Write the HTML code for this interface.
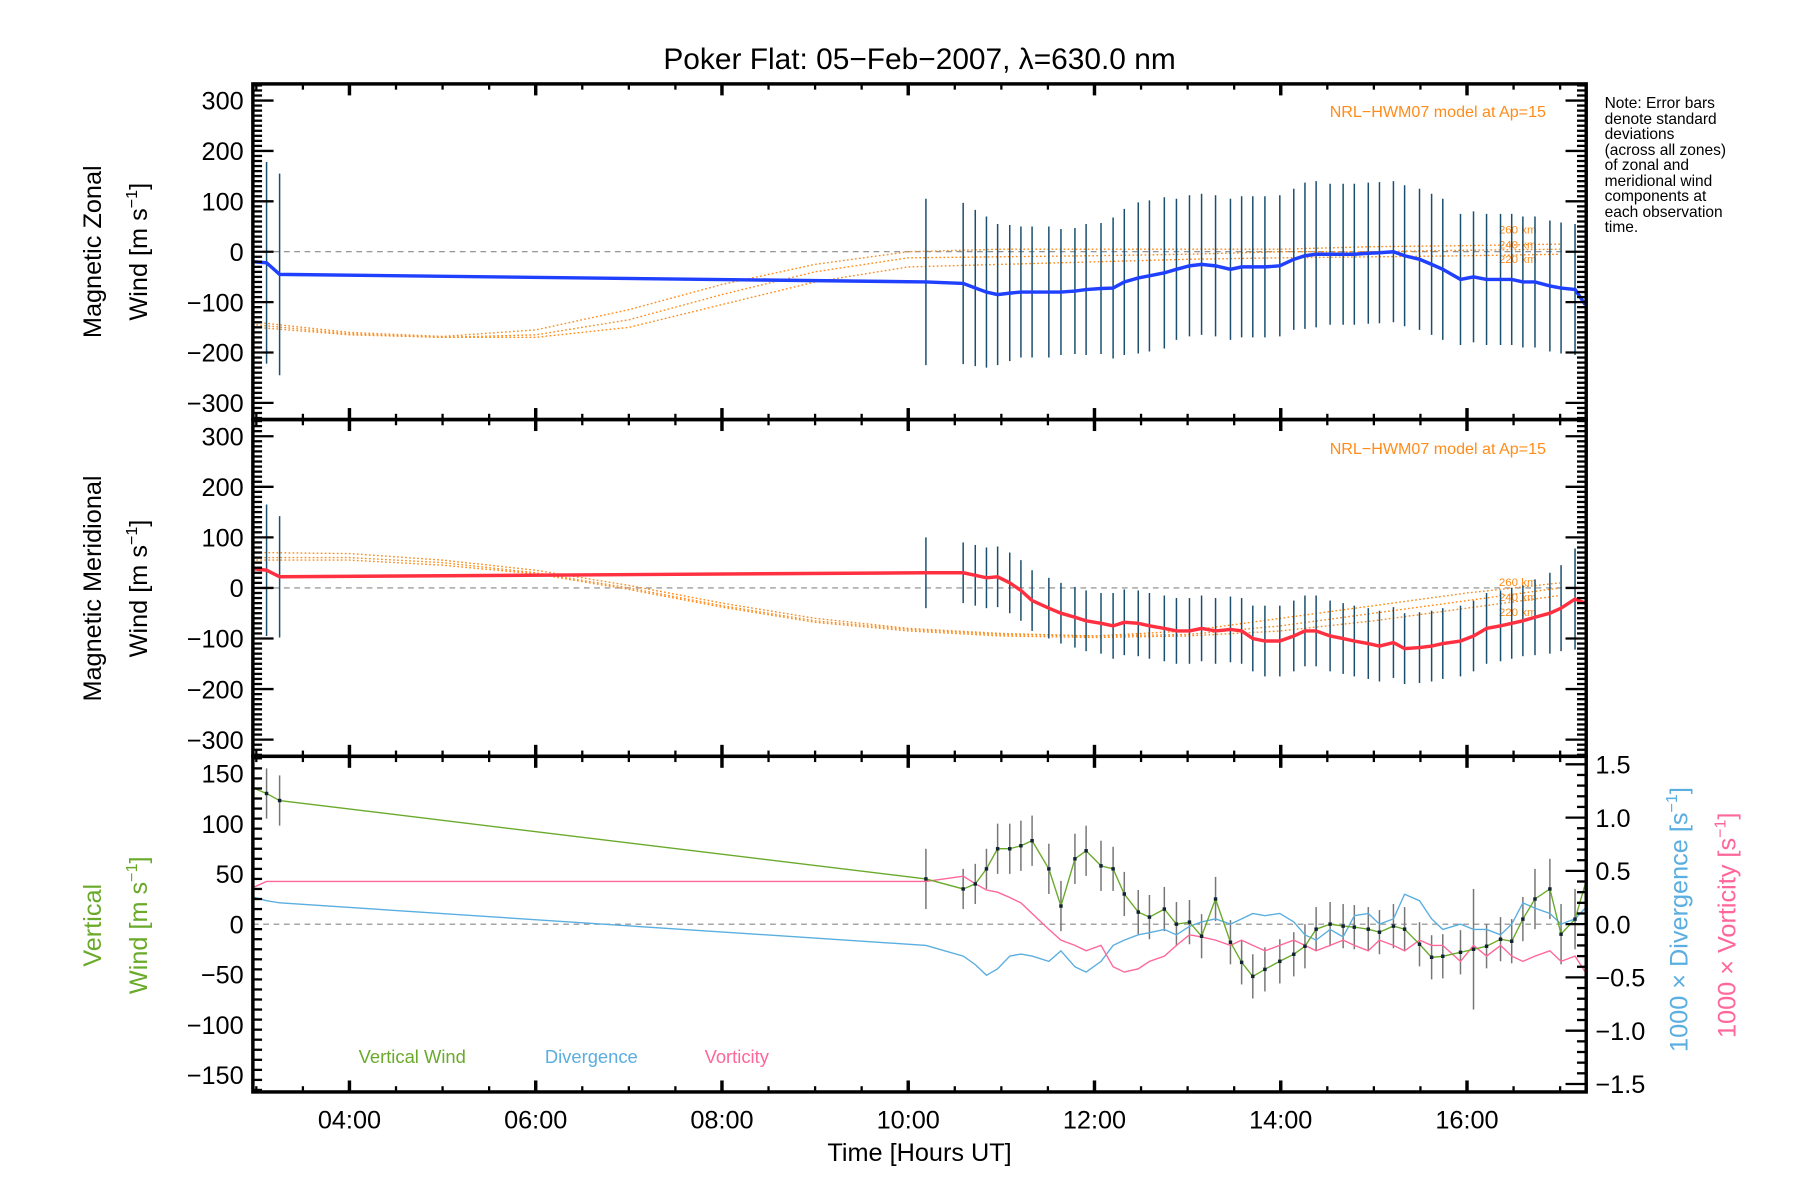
<!DOCTYPE html>
<html><head><meta charset="utf-8"><title>Poker Flat winds</title>
<style>html,body{margin:0;padding:0;background:#fff;}svg{display:block;font-family:"Liberation Sans",sans-serif;}</style>
</head><body>
<svg id="chart" width="1800" height="1200" viewBox="0 0 1566 1044" xmlns="http://www.w3.org/2000/svg">
<rect x="0" y="0" width="1566" height="1044" fill="#fff"/>
<text x="800" y="60" font-size="26" text-anchor="middle">Poker Flat: 05−Feb−2007, λ=630.0 nm</text>
<g font-size="13.5" fill="#000">
<text x="1396" y="94">Note: Error bars</text><text x="1396" y="108">denote standard</text><text x="1396" y="121">deviations</text><text x="1396" y="135">(across all zones)</text><text x="1396" y="148">of zonal and</text><text x="1396" y="162">meridional wind</text><text x="1396" y="175">components at</text><text x="1396" y="189">each observation</text><text x="1396" y="202">time.</text>
</g>
<text x="1345" y="102" font-size="14" fill="#ff8c1a" text-anchor="end">NRL−HWM07 model at Ap=15</text>
<text x="1345" y="395" font-size="14" fill="#ff8c1a" text-anchor="end">NRL−HWM07 model at Ap=15</text>
<g font-size="10" fill="#ff8c1a">
<text x="1304" y="203">260 km</text><text x="1304" y="216">240 km</text><text x="1304" y="229">220 km</text>
<text x="1304" y="510">260 km</text><text x="1304" y="523">240 km</text><text x="1304" y="536">220 km</text>
</g>
<g font-size="22" text-anchor="middle">
<text transform="translate(88,219) rotate(-90)">Magnetic  Zonal</text>
<text transform="translate(128,219) rotate(-90)">Wind [m s<tspan font-size="14" dy="-9">−1</tspan><tspan dy="9">]</tspan></text>
<text transform="translate(88,512) rotate(-90)">Magnetic  Meridional</text>
<text transform="translate(128,512) rotate(-90)">Wind [m s<tspan font-size="14" dy="-9">−1</tspan><tspan dy="9">]</tspan></text>
<text fill="#6aaa2a" transform="translate(88,805) rotate(-90)">Vertical</text>
<text fill="#6aaa2a" transform="translate(128,805) rotate(-90)">Wind [m s<tspan font-size="14" dy="-9">−1</tspan><tspan dy="9">]</tspan></text>
<text fill="#5aaee0" transform="translate(1468,800) rotate(-90)">1000 × Divergence [s<tspan font-size="14" dy="-9">−1</tspan><tspan dy="9">]</tspan></text>
<text fill="#ff6699" transform="translate(1510,805) rotate(-90)">1000 × Vorticity [s<tspan font-size="14" dy="-9">−1</tspan><tspan dy="9">]</tspan></text>
<text x="800" y="1010">Time [Hours UT]</text>
</g>
<g font-size="16">
<text x="312" y="925" fill="#6aaa2a">Vertical Wind</text>
<text x="474" y="925" fill="#5aaee0">Divergence</text>
<text x="613" y="925" fill="#ff6699">Vorticity</text>
</g>
<g id="plot"></g>
</svg>
<script>
const times = [2.98,3.11,3.25,10.19,10.59,10.72,10.84,10.96,11.09,11.21,11.33,11.51,11.64,11.79,11.91,12.07,12.2,12.32,12.47,12.59,12.75,12.88,13.02,13.15,13.3,13.46,13.58,13.7,13.83,13.99,14.14,14.26,14.38,14.53,14.67,14.79,14.94,15.06,15.21,15.33,15.49,15.62,15.74,15.93,16.07,16.21,16.36,16.48,16.6,16.73,16.89,17.01,17.16,17.27];
const zonal = [-20,-22,-45,-60,-63,-72,-80,-85,-82,-80,-80,-80,-80,-78,-75,-73,-72,-60,-52,-48,-42,-35,-28,-25,-28,-35,-30,-30,-30,-28,-15,-8,-5,-5,-5,-5,-3,-2,0,-8,-15,-25,-35,-55,-50,-55,-55,-55,-60,-60,-68,-72,-75,-105];
const zonalErr = [150,200,200,165,160,155,150,140,135,130,130,130,125,125,130,130,140,145,150,150,150,140,140,140,140,140,140,140,140,140,140,145,145,140,140,140,140,140,140,140,140,140,140,130,130,130,130,130,130,130,130,130,130,130];
const merid = [38,35,22,30,30,25,20,22,10,-5,-25,-40,-50,-58,-65,-70,-75,-68,-70,-75,-80,-85,-85,-80,-85,-82,-85,-100,-105,-105,-95,-85,-85,-95,-100,-105,-110,-115,-108,-120,-118,-115,-110,-105,-95,-80,-75,-70,-65,-58,-50,-40,-22,-30];
const meridErr = [130,130,120,70,60,60,60,60,60,60,60,60,60,60,60,60,65,65,65,65,65,65,65,65,65,65,65,65,70,70,70,70,70,70,70,70,70,70,70,70,70,70,70,70,70,70,70,70,70,75,80,85,100,100];
const vertical = [135,130,123,45,35,40,55,75,75,78,83,55,18,65,73,58,55,30,12,7,15,0,2,-12,25,-18,-38,-52,-45,-37,-30,-22,-5,0,-2,-3,-5,-8,-2,-5,-20,-33,-32,-28,-25,-22,-15,-17,5,25,35,-10,5,40];
const verticalErr = [25,25,25,30,20,20,20,25,25,25,25,25,25,25,25,25,22,22,22,22,22,22,22,22,22,22,22,22,22,22,22,22,22,22,22,22,22,22,22,22,22,22,22,22,60,22,22,22,22,30,30,30,30,30];
const divergence = [0.25,0.22,0.2,-0.2,-0.3,-0.38,-0.48,-0.42,-0.3,-0.28,-0.3,-0.35,-0.25,-0.4,-0.45,-0.35,-0.2,-0.15,-0.1,-0.08,-0.05,-0.1,-0.02,0.02,0.05,0.0,0.05,0.1,0.08,0.1,0.02,-0.1,-0.15,-0.05,-0.12,0.08,0.1,0.0,0.05,0.28,0.22,0.05,-0.05,0.0,-0.05,-0.05,-0.1,0.0,0.2,0.15,0.1,0.0,0.05,0.15];
const vorticity = [0.35,0.4,0.4,0.4,0.45,0.38,0.32,0.3,0.25,0.2,0.1,-0.05,-0.15,-0.2,-0.25,-0.2,-0.4,-0.45,-0.42,-0.35,-0.3,-0.2,-0.1,-0.12,-0.15,-0.2,-0.15,-0.2,-0.25,-0.2,-0.15,-0.2,-0.25,-0.2,-0.15,-0.2,-0.25,-0.15,-0.2,-0.25,-0.15,-0.2,-0.2,-0.35,-0.2,-0.3,-0.2,-0.3,-0.35,-0.3,-0.25,-0.35,-0.3,-0.45];
const modelHours = [3,4,5,6,7,8,9,10,11,12,13,14,15,16,17];
const zonal260 = [-140,-160,-168,-155,-115,-65,-25,0,5,5,5,5,10,12,15];
const zonal240 = [-145,-163,-170,-165,-135,-85,-40,-12,-10,-8,-5,0,0,3,5];
const zonal220 = [-150,-165,-170,-170,-150,-105,-60,-30,-25,-20,-15,-12,-10,-8,-5];
const merid260 = [70,68,55,35,5,-30,-60,-80,-90,-95,-85,-60,-35,-10,10];
const merid240 = [60,60,50,30,0,-35,-65,-82,-92,-95,-92,-75,-50,-25,0];
const merid220 = [55,55,45,28,-3,-38,-68,-85,-95,-98,-95,-85,-65,-40,-15];
const xTickLabels = ["04:00","06:00","08:00","10:00","12:00","14:00","16:00"];
const xTickHours = [4,6,8,10,12,14,16];
const windTicks = [300,200,100,0,-100,-200,-300];
const vertTicks = [150,100,50,0,-50,-100,-150];
const rightTicks = [1.5,1.0,0.5,0.0,-0.5,-1.0,-1.5];

const NS='http://www.w3.org/2000/svg';
const plot=document.getElementById('plot');
const L=220,R=1380,XMIN=2.963,XMAX=17.28;
function X(h){return L+(h-XMIN)*(R-L)/(XMAX-XMIN);}
function mkY(top,bot,min,max){return v=>bot-(v-min)*(bot-top)/(max-min);}
const Y1=mkY(73,365,-333,333),Y2=mkY(365,658,-333,333),Y3=mkY(658,950,-167,167),Y3R=mkY(658,950,-1.575,1.575);
function el(tag,attrs,parent){const e=document.createElementNS(NS,tag);for(const k in attrs)e.setAttribute(k,attrs[k]);(parent||plot).appendChild(e);return e;}
function pts(xs,ys,fy){return xs.map((h,i)=>X(h).toFixed(1)+','+fy(ys[i]).toFixed(1)).join(' ');}

// dashed zero lines
[[Y1,0],[Y2,0],[Y3,0]].forEach(([f,v],i)=>{
  const z=el('line',{x1:L,x2:R,y1:f(v),y2:f(v),stroke:'#888','stroke-dasharray':'5,4','stroke-width':1});
  
  
});

// model curves
[[zonal260,Y1],[zonal240,Y1],[zonal220,Y1],[merid260,Y2],[merid240,Y2],[merid220,Y2]].forEach(([arr,f])=>{
  const p=el('polyline',{points:pts(modelHours,arr,f),fill:'none',stroke:'#ff8c1a','stroke-width':1.2,'stroke-dasharray':'1.5,2'});
  
  
});

// error bars
function errBars(vals,errs,f,color,name){
  times.forEach((h,i)=>{
    if(i===0||i===times.length-1)return;
    const b=el('line',{x1:X(h),x2:X(h),y1:f(vals[i]+errs[i]),y2:f(vals[i]-errs[i]),stroke:color,'stroke-width':1.3});
    
    
  });
}
errBars(zonal,zonalErr,Y1,'#1a4f6e','zonal-error-bar');
errBars(merid,meridErr,Y2,'#1a4f6e','meridional-error-bar');
errBars(vertical,verticalErr,Y3,'#777','vertical-error-bar');

// horizontal gray line in panel 3 (flat vorticity gap)
// main series
const zl=el('polyline',{points:pts(times,zonal,Y1),fill:'none',stroke:'#2040ff','stroke-width':3});


const ml=el('polyline',{points:pts(times,merid,Y2),fill:'none',stroke:'#ff3040','stroke-width':3});


const dl=el('polyline',{points:pts(times,divergence,Y3R),fill:'none',stroke:'#5aaee0','stroke-width':1.2});


const vl=el('polyline',{points:pts(times,vorticity,Y3R),fill:'none',stroke:'#ff6699','stroke-width':1.2});


const wl=el('polyline',{points:pts(times,vertical,Y3),fill:'none',stroke:'#6aaa2a','stroke-width':1.2});


times.forEach((h,i)=>{
  if(i===0||i===times.length-1)return;
  const d=el('rect',{x:X(h)-1.5,y:Y3(vertical[i])-1.5,width:3,height:3,fill:'#123'});
  
  
});

// frames and ticks
function frame(top,bot,name){
  const r=el('rect',{x:L,y:top,width:R-L,height:bot-top,fill:'none',stroke:'#000','stroke-width':3});
  
  
  for(let h=3;h<=17.2;h+=0.5){
    const major=xTickHours.includes(h);
    const len=major?10:5;
    const t1=el('line',{x1:X(h),x2:X(h),y1:bot,y2:bot-len,stroke:'#000','stroke-width':major?3:2});
    
    
    const t2=el('line',{x1:X(h),x2:X(h),y1:top,y2:top+len,stroke:'#000','stroke-width':major?3:2});
    
    
  }
}
function yTicks(f,min,max,step,minor,labels,side,fmt){
  const x0=side==='left'?L:R,dir=side==='left'?1:-1;
  for(let v=min;v<=max+1e-9;v+=minor){
    const vv=Math.round(v*1000)/1000;
    const isMajor=Math.abs(vv/step-Math.round(vv/step))<1e-6;
    const t=el('line',{x1:x0,x2:x0+dir*(isMajor?18:8),y1:f(vv),y2:f(vv),stroke:'#000','stroke-width':2});
    
    
  }
  if(labels){labels.forEach(v=>{
    const tx=el('text',{x:side==='left'?L-8:R+8,y:f(v)+8,'font-size':22,'text-anchor':side==='left'?'end':'start'});
    tx.textContent=fmt(v);
    
    
  });}
}
const neg=v=>(v<0?'−'+Math.abs(v):String(v));
frame(73,365,'zonal-panel');frame(365,658,'meridional-panel');frame(658,950,'vertical-panel');
yTicks(Y1,-330,330,100,10,windTicks,'left',neg);yTicks(Y1,-330,330,100,10,null,'right');
yTicks(Y2,-330,330,100,10,windTicks,'left',neg);yTicks(Y2,-330,330,100,10,null,'right');
yTicks(Y3,-165,165,50,10,vertTicks,'left',neg);
yTicks(Y3R,-1.5,1.5,0.5,0.1,rightTicks,'right',v=>(v<0?'−':'')+Math.abs(v).toFixed(1));
xTickLabels.forEach((lab,i)=>{
  const t=el('text',{x:X(xTickHours[i]),y:982,'font-size':22,'text-anchor':'middle'});
  t.textContent=lab;
  
  
});
</script>
</body></html>
